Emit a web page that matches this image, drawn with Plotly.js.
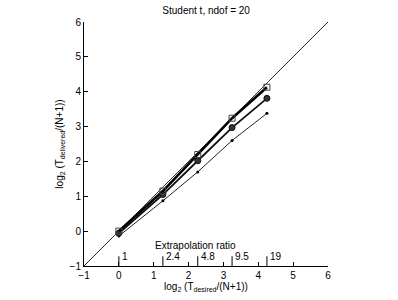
<!DOCTYPE html>
<html>
<head>
<meta charset="utf-8">
<script src="https://cdn.plot.ly/plotly-3.0.1.min.js"></script>
<style>html,body{margin:0;padding:0;background:#fff;}#chart{width:398px;height:300px;}</style>
</head>
<body>
<div id="chart"></div>
<script>
// Extrapolation ratios (T_desired/(N+1)) and their labels
const ratios = [1, 2.4, 4.8, 9.5, 19];
const ratioLabels = ["1", "2.4", "4.8", "9.5", "19"];
// Delivered log2 values per series
const seriesSquares = [0.0, 1.15, 2.2, 3.24, 4.13];
const seriesCircles = [-0.06, 1.05, 2.02, 2.97, 3.81];
const seriesDots = [-0.14, 0.87, 1.7, 2.6, 3.38];
const identityX = [-1, 6];
const identityY = [-1, 6];
const ratioTickBottom = -1;
const ratioTickTop = -0.72;

const xs = ratios.map(r => Math.log2(r));
const fontFam = 'Liberation Sans, Arial, sans-serif';

const traces = [
  {x: identityX, y: identityY, mode: 'lines', line: {color: '#333', width: 1}, hoverinfo: 'skip'},
  {x: xs, y: seriesDots, mode: 'lines+markers', line: {color: '#222', width: 1},
   marker: {symbol: 'circle', size: 3, color: '#000'}},
  {x: xs, y: seriesCircles, mode: 'lines+markers', line: {color: '#111', width: 1.8},
   marker: {symbol: 'circle', size: 6, color: '#333', line: {color: '#111', width: 1}}},
  {x: xs, y: seriesSquares, mode: 'lines+markers', line: {color: '#000', width: 2.6},
   marker: {symbol: 'square-open', size: 6, color: '#444', line: {width: 1}}}
];

// Secondary "Extrapolation ratio" ticks
const tx = [], ty = [];
xs.forEach(v => { tx.push(v, v, null); ty.push(ratioTickBottom, ratioTickTop, null); });
traces.push({x: tx, y: ty, mode: 'lines', line: {color: '#000', width: 1}, hoverinfo: 'skip'});

const annotations = [{x: 2.2, y: -0.4, xref: 'x', yref: 'y', text: 'Extrapolation ratio', showarrow: false,
  font: {size: 10, family: fontFam}}];
xs.forEach((v, i) => annotations.push({x: v, y: ratioTickTop, xref: 'x', yref: 'y', text: ratioLabels[i],
  showarrow: false, xanchor: 'left', yanchor: 'middle', xshift: 1, font: {size: 10, family: fontFam}}));

const layout = {
  width: 398, height: 300,
  margin: {l: 84, r: 70, t: 22, b: 34},
  showlegend: false,
  paper_bgcolor: '#fff', plot_bgcolor: '#fff',
  font: {family: fontFam, size: 10, color: '#000'},
  title: {text: 'Student t, ndof = 20', font: {size: 10, family: fontFam}, x: 0.518, xanchor: 'center', y: 0.965, yanchor: 'middle'},
  xaxis: {range: [-1, 6], dtick: 1, showgrid: false, zeroline: false, showline: true, linecolor: '#000', linewidth: 1,
    ticks: 'inside', ticklen: 4, tickcolor: '#000', mirror: false,
    title: {text: 'log<sub>2</sub> (T<sub>desired</sub>/(N+1))', font: {size: 10, family: fontFam}, standoff: 2}},
  yaxis: {range: [-1, 6], dtick: 1, showgrid: false, zeroline: false, showline: true, linecolor: '#000', linewidth: 1,
    ticks: 'inside', ticklen: 4, tickcolor: '#000', mirror: false,
    title: {text: 'log<sub>2</sub> (T<sub>delivered</sub>/(N+1))', font: {size: 10, family: fontFam}, standoff: 4}},
  annotations: annotations
};
Plotly.newPlot('chart', traces, layout, {displayModeBar: false, staticPlot: true});
</script>
</body>
</html>
